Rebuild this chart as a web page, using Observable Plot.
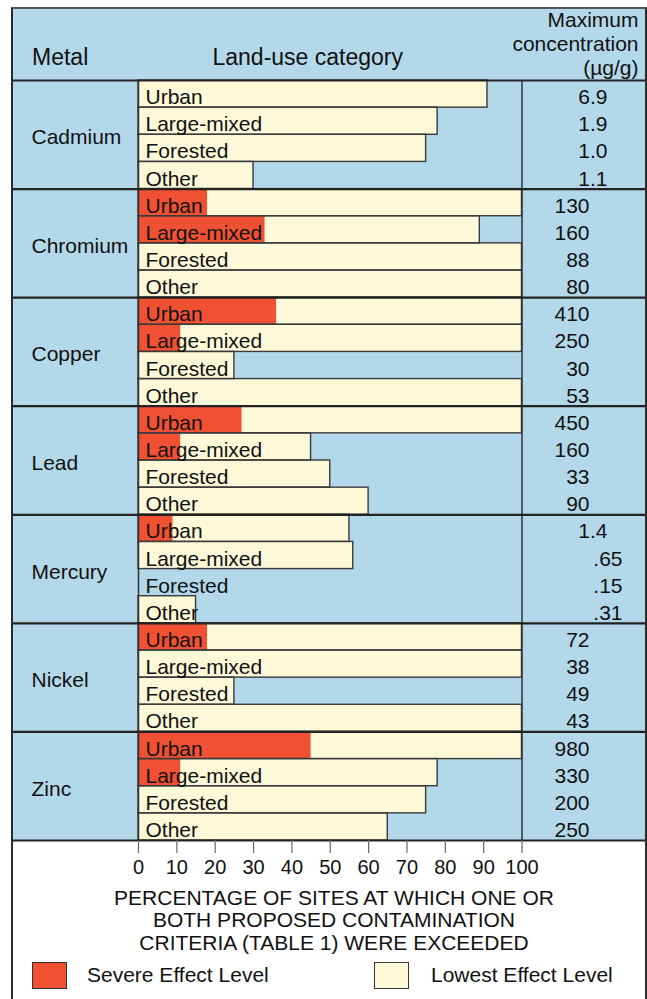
<!DOCTYPE html>
<html>
<head>
<meta charset="utf-8">
<script src="https://cdn.jsdelivr.net/npm/d3@7"></script>
<script src="https://cdn.jsdelivr.net/npm/@observablehq/plot@0.6"></script>
<style>
  html, body { margin: 0; padding: 0; background: #fff; }
  body { width: 647px; height: 999px; position: relative; overflow: hidden;
         font-family: "Liberation Sans", Arial, Helvetica, sans-serif; color: #111; }
  #bluebox { position: absolute; left: 12px; top: 8px; width: 633px; height: 832px; background: #b3d8ea; }
  #borderbox { position: absolute; left: 11px; top: 7px; width: 636px; height: 1000px;
               box-sizing: border-box; border-left: 2px solid #2b2b2b; border-right: 2px solid #2b2b2b;
               border-top: 2px solid #555; z-index: 3; pointer-events: none; }
  #chart { position: absolute; left: 0; top: 0; z-index: 2; }
  #caption { position: absolute; left: 34px; top: 886.5px; width: 600px; text-align: center;
             font-size: 21px; line-height: 22.5px; }
  .sw { position: absolute; top: 962px; width: 35px; height: 27px; box-sizing: border-box; border: 1.5px solid #333; }
  .lg { position: absolute; top: 961px; font-size: 21px; line-height: 28px; }
</style>
</head>
<body>
<div id="bluebox"></div>
<div id="chart"></div>
<div id="borderbox"></div>
<div id="caption"></div>
<div id="legend"></div>
<script>
// ---- data ----
const metals = ["Cadmium", "Chromium", "Copper", "Lead", "Mercury", "Nickel", "Zinc"];
const landUses = ["Urban", "Large-mixed", "Forested", "Other"];
// Percentage of sites exceeding Lowest Effect Level (total bar length)
const lowestPct = [
  [91, 78, 75, 30],   // Cadmium
  [100, 89, 100, 100],// Chromium
  [100, 100, 25, 100],// Copper
  [100, 45, 50, 60],  // Lead
  [55, 56, 0, 15],    // Mercury
  [100, 100, 25, 100],// Nickel
  [100, 78, 75, 65]   // Zinc
];
// Percentage of sites exceeding Severe Effect Level
const severePct = [
  [0, 0, 0, 0],
  [18, 33, 0, 0],
  [36, 11, 0, 0],
  [27, 11, 0, 0],
  [9, 0, 0, 0],
  [18, 0, 0, 0],
  [45, 11, 0, 0]
];
// Maximum concentration (µg/g)
const maxConc = [
  ["6.9", "1.9", "1.0", "1.1"],
  ["130", "160", "88", "80"],
  ["410", "250", "30", "53"],
  ["450", "160", "33", "90"],
  ["1.4", ".65", ".15", ".31"],
  ["72", "38", "49", "43"],
  ["980", "330", "200", "250"]
];
const xTicks = [0, 10, 20, 30, 40, 50, 60, 70, 80, 90, 100];
const headerMetal = "Metal";
const headerLandUse = "Land-use category";
const headerConc = "Maximum\nconcentration\n(µg/g)";
const captionLines = ["PERCENTAGE OF SITES AT WHICH ONE OR", "BOTH PROPOSED CONTAMINATION", "CRITERIA (TABLE 1) WERE EXCEEDED"];
const legendItems = ["Severe Effect Level", "Lowest Effect Level"];

// ---- build table ----
const CREAM = "#fcf8d8", RED = "#f05133", INK = "#111";
const rows = [];
metals.forEach((m, i) => landUses.forEach((u, j) => rows.push({
  metal: m, landUse: u, row: i * 4 + j,
  total: lowestPct[i][j], severe: severePct[i][j], conc: maxConc[i][j]
})));
const metalRows = metals.map((m, i) => ({metal: m, mid: i * 4 + 2}));
const panelEdges = d3.range(0, metals.length + 1).map(k => k * 4);
const nRows = metals.length * landUses.length;

const concInt = rows.filter(d => !d.conc.includes("."));
const concDec = rows.filter(d => /^\d\./.test(d.conc));
const concFrac = rows.filter(d => d.conc.startsWith("."));

const FS = 21;
const chart = Plot.plot({
  width: 647,
  height: 880,
  marginTop: 80,
  marginBottom: 40,
  marginLeft: 12,
  marginRight: 2,
  style: {fontFamily: '"Liberation Sans", Arial, Helvetica, sans-serif', background: "transparent", color: INK, overflow: "visible"},
  x: {domain: [0, 100], range: [138, 521.5]},
  y: {domain: [0, nRows], range: [80, 840], axis: null},
  marks: [
    Plot.rect(rows.filter(d => d.total > 0), {x1: 0, x2: "total", y1: "row", y2: d => d.row + 1, fill: CREAM}),
    Plot.rect(rows.filter(d => d.severe > 0), {x1: 0, x2: "severe", y1: "row", y2: d => d.row + 1, fill: RED}),
    Plot.rect(rows.filter(d => d.total > 0), {x1: 0, x2: "total", y1: "row", y2: d => d.row + 1, fill: "none", stroke: "#3a3a3a", strokeWidth: 1.4}),
    Plot.ruleX([0, 100], {stroke: "#333", strokeWidth: 1.5}),
    Plot.ruleY(panelEdges, {stroke: "#222", strokeWidth: 2.2}),
    // land-use labels
    Plot.text(rows, {x: 0, y: d => d.row + 1, text: "landUse", textAnchor: "start", lineAnchor: "bottom", dx: 7, dy: -3.5, fontSize: FS, fill: INK}),
    // metal labels
    Plot.text(metalRows, {frameAnchor: "left", y: "mid", text: "metal", textAnchor: "start", lineAnchor: "bottom", dx: 19, dy: 9.5, fontSize: FS, fill: INK}),
    // concentrations
    Plot.text(concInt, {frameAnchor: "right", y: d => d.row + 1, text: "conc", textAnchor: "end", lineAnchor: "bottom", dx: -56, dy: -3.5, fontSize: FS, fill: INK}),
    Plot.text(concDec, {frameAnchor: "right", y: d => d.row + 1, text: "conc", textAnchor: "end", lineAnchor: "bottom", dx: -38, dy: -3.5, fontSize: FS, fill: INK}),
    Plot.text(concFrac, {frameAnchor: "right", y: d => d.row + 1, text: "conc", textAnchor: "end", lineAnchor: "bottom", dx: -23, dy: -3.5, fontSize: FS, fill: INK}),
    // header
    Plot.text([headerMetal], {frameAnchor: "top-left", text: d => d, textAnchor: "start", lineAnchor: "bottom", dx: 19.5, dy: -16, fontSize: 23, fill: INK}),
    Plot.text([headerLandUse], {frameAnchor: "top-left", text: d => d, textAnchor: "start", lineAnchor: "bottom", dx: 200, dy: -16, fontSize: 23, fill: INK}),
    Plot.text([headerConc], {frameAnchor: "top-right", text: d => d, textAnchor: "end", lineAnchor: "bottom", lineHeight: 1.12, dx: -7, dy: -6, fontSize: 21, fill: INK}),
    // x axis
    Plot.axisX(xTicks, {anchor: "bottom", tickSize: 13, tickPadding: 6, fontSize: 20, stroke: "#666", strokeWidth: 1.2, fill: INK, label: null})
  ]
});
document.getElementById("chart").appendChild(chart);

document.getElementById("caption").innerHTML = captionLines.join("<br>");
const legend = document.getElementById("legend");
const legendColors = [RED, CREAM];
const swX = [32, 374], txX = [87, 431];
legendItems.forEach((t, i) => {
  const s = document.createElement("div");
  s.className = "sw"; s.style.left = swX[i] + "px"; s.style.background = legendColors[i];
  legend.appendChild(s);
  const l = document.createElement("div");
  l.className = "lg"; l.style.left = txX[i] + "px"; l.textContent = t;
  legend.appendChild(l);
});
</script>
</body>
</html>
